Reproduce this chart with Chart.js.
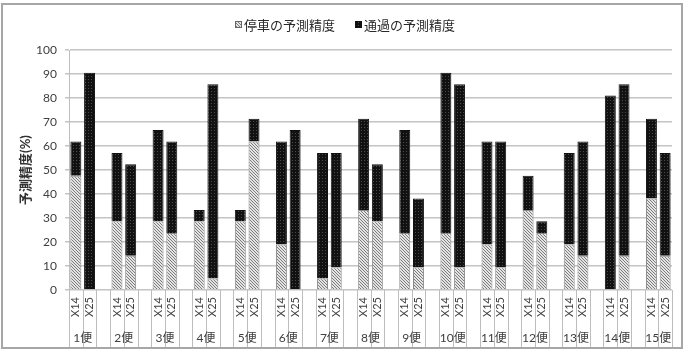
<!DOCTYPE html>
<html><head><meta charset="utf-8">
<script src="https://cdn.jsdelivr.net/npm/chart.js@4/dist/chart.umd.min.js"></script>
<style>html,body{margin:0;padding:0;background:#fff}</style>
</head><body>
<canvas id="c" width="688" height="351"></canvas>
<script>
const groups = ['1便','2便','3便','4便','5便','6便','7便','8便','9便','10便','11便','12便','13便','14便','15便'];
const subLabels = ['X14','X25'];
const seriesNames = ['停車の予測精度','通過の予測精度'];
// values per bar in order 1便X14, 1便X25, 2便X14, ...
const stopValues = [47.6,0, 28.6,14.3, 28.6,23.8, 28.6,4.8, 28.6,61.9, 19.0,0, 4.8,9.5, 33.3,28.6, 23.8,9.5, 23.8,9.5, 19.0,9.5, 33.3,23.8, 19.0,14.3, 0,14.3, 38.1,14.3];
const passValues = [14.3,90.5, 28.5,38.1, 38.1,38.1, 4.7,80.9, 4.7,9.5, 42.9,66.7, 52.3,47.6, 38.1,23.8, 42.9,28.6, 66.7,76.2, 42.9,52.4, 14.3,4.8, 38.1,47.6, 81.0,71.4, 33.3,42.8];
const yMin = 0, yMax = 100, yStep = 10;

const FONT = "Lato, 'Noto Sans CJK JP', sans-serif";

// build slots: X14, X25, blank between groups
const labels = [], stopData = [], passData = [], groupOfSlot = [];
groups.forEach((g, gi) => {
  subLabels.forEach((s, si) => {
    labels.push(s);
    stopData.push(stopValues[gi*2+si]);
    passData.push(passValues[gi*2+si]);
    groupOfSlot.push(gi);
  });
  if (gi < groups.length - 1) { labels.push(''); stopData.push(null); passData.push(null); groupOfSlot.push(-1); }
});

function makePattern(type) {
  const c = document.createElement('canvas');
  const x = c.getContext('2d');
  c.width = 3; c.height = 3;
  if (type === 'hatch') {
    x.fillStyle = '#e4e4e4'; x.fillRect(0,0,3,3);
    x.fillStyle = '#7c7c7c';
    for (let i=0;i<3;i++) x.fillRect(i,i,1,1);
  } else {
    x.fillStyle = '#111111'; x.fillRect(0,0,3,3);
    x.fillStyle = '#4a4a4a'; x.fillRect(1,1,1,1);
  }
  return document.getElementById('c').getContext('2d').createPattern(c, 'repeat');
}
const hatch = makePattern('hatch');
const dots = makePattern('dots');

const decor = {
  id: 'decor',
  afterDraw(chart) {
    const ctx = chart.ctx, xs = chart.scales.x, area = chart.chartArea;
    const w = xs.getPixelForValue(1) - xs.getPixelForValue(0);
    ctx.save();
    // divider lines under the axis
    ctx.strokeStyle = '#bdbdbd'; ctx.lineWidth = 1;
    for (let i = 0; i <= labels.length; i++) {
      const px = Math.round((i < labels.length ? xs.getPixelForValue(i) - w/2 : xs.getPixelForValue(labels.length-1) + w/2)) + 0.5;
      ctx.beginPath(); ctx.moveTo(px, area.bottom); ctx.lineTo(px, 348); ctx.stroke();
    }
    // sub labels
    ctx.fillStyle = '#404040';
    ctx.font = '11px ' + FONT;
    ctx.textAlign = 'center'; ctx.textBaseline = 'middle';
    labels.forEach((l, i) => {
      if (!l) return;
      const cx = xs.getPixelForValue(i);
      ctx.save(); ctx.translate(cx, 307); ctx.rotate(-Math.PI/2);
      ctx.fillText(l, 0, 0); ctx.restore();
    });
    // group labels
    ctx.font = '12px ' + FONT;
    groups.forEach((g, gi) => {
      const i0 = groupOfSlot.indexOf(gi);
      const cx = (xs.getPixelForValue(i0) + xs.getPixelForValue(i0+1)) / 2;
      ctx.fillText(g, cx, 338);
    });
    // legend
    ctx.font = '13px ' + FONT;
    const pats = [hatch, dots], strokes = ['#666', '#111'];
    const box = 7, gapIn = 2, gapOut = 20;
    const widths = seriesNames.map(n => box + gapIn + ctx.measureText(n).width);
    const total = widths[0] + widths[1] + gapOut;
    let lx = Math.round(345 - total/2);
    const ly = 25;
    ctx.textAlign = 'left';
    seriesNames.forEach((n, k) => {
      ctx.fillStyle = pats[k]; ctx.fillRect(lx, ly - 4, box, box);
      ctx.strokeStyle = strokes[k]; ctx.lineWidth = 1; ctx.strokeRect(lx + 0.5, ly - 4 + 0.5, box - 1, box - 1);
      ctx.fillStyle = '#2a2a2a';
      ctx.fillText(n, lx + box + gapIn, ly + 1);
      lx += widths[k] + gapOut;
    });
    // outer border
    ctx.strokeStyle = '#a6a6a6'; ctx.lineWidth = 2;
    ctx.strokeRect(2, 4, 680, 344);
    ctx.restore();
  }
};

new Chart(document.getElementById('c'), {
  type: 'bar',
  data: {
    labels: labels,
    datasets: [
      { label: seriesNames[0], data: stopData, backgroundColor: hatch, borderColor: '#8a8a8a', borderWidth: 1, barPercentage: 0.8, categoryPercentage: 1 },
      { label: seriesNames[1], data: passData, backgroundColor: dots, borderColor: '#111', borderWidth: 1, barPercentage: 0.8, categoryPercentage: 1 }
    ]
  },
  options: {
    responsive: false, animation: false,
    layout: { padding: { top: 50, left: 14, right: 16, bottom: 61 } },
    plugins: { legend: { display: false }, tooltip: { enabled: false } },
    scales: {
      x: { stacked: true, display: false },
      y: {
        stacked: true, min: yMin, max: yMax,
        ticks: { stepSize: yStep, font: { size: 12, family: FONT }, color: '#404040', padding: 8 },
        grid: { color: '#c4c4c4', lineWidth: 1.5, tickLength: 4 },
        border: { color: '#bdbdbd', width: 1 },
        title: { display: true, text: '予測精度(%)', font: { size: 13, weight: 'bold', family: FONT }, color: '#333', padding: { top: 4, bottom: 4 } },
        afterFit(s) { s.width = 55; }
      }
    }
  },
  plugins: [decor]
});
</script>
</body></html>
